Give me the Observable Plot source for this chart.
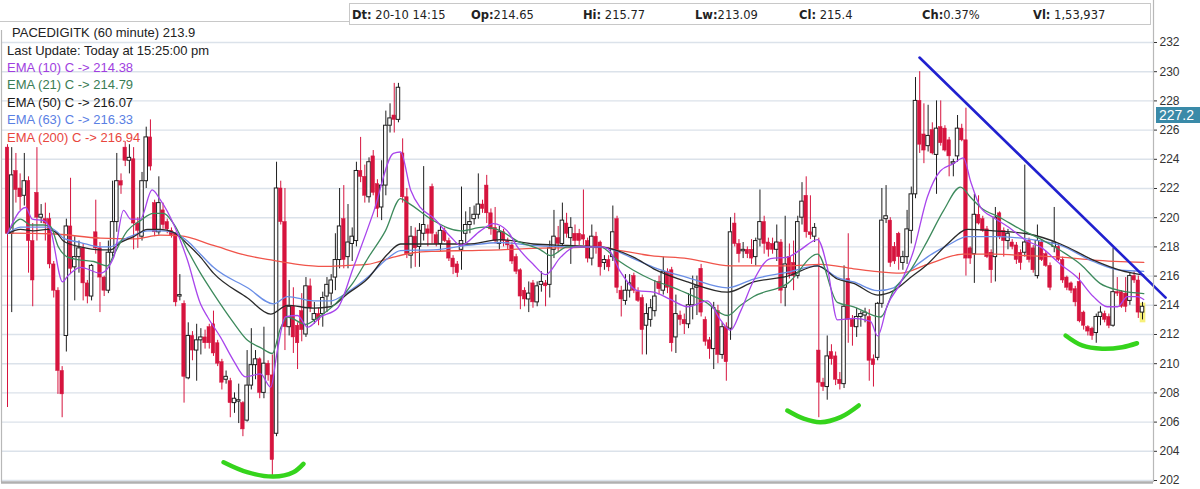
<!DOCTYPE html>
<html><head><meta charset="utf-8">
<script src="https://cdn.jsdelivr.net/npm/d3@7"></script>
<script src="https://cdn.jsdelivr.net/npm/@observablehq/plot@0.6"></script>
<style>
html,body{margin:0;padding:0;background:#fff;}
#wrap{position:relative;width:1200px;height:489px;overflow:hidden;font-family:"Liberation Sans",Arial,sans-serif;}
#chart svg{display:block}
.hdr{position:absolute;left:349px;top:3px;width:802px;height:22px;border:1px solid #c8c8c8;background:#fff;font-family:"DejaVu Sans",sans-serif;font-size:11.5px;color:#222;box-sizing:border-box;}
.hdr span{position:absolute;top:4px;white-space:nowrap}
.lg{position:absolute;font-size:13px;white-space:nowrap;line-height:1}
.tag{position:absolute;background:#3a8aa8;color:#fff;font-size:14px;line-height:16px;padding-left:3px;box-sizing:border-box;}
</style></head>
<body><div id="wrap"><div id="chart"></div></div>
<script>
// ---------- data ----------
const opens = [224.8,218.9,223.2,222.0,221.5,222.5,218.4,221.7,220.0,219.9,219.9,216.8,215.0,209.5,211.9,219.4,216.6,217.3,217.9,215.5,214.6,219.0,217.9,215.9,215.0,217.6,219.7,222.5,224.8,223.9,224.0,219.6,218.7,222.5,225.5,221.0,219.0,220.5,219.7,219.1,218.9,214.6,214.1,209.0,211.9,210.9,211.6,211.8,212.5,212.7,211.4,210.1,208.9,208.8,207.3,207.4,207.3,206.1,208.5,209.9,210.3,208.0,210.0,209.2,205.2,222.0,219.7,212.5,213.9,212.6,213.6,212.0,215.3,213.0,213.4,213.4,214.6,214.8,215.9,217.1,219.9,217.3,218.2,218.4,223.2,222.8,221.4,224.2,222.3,220.7,222.2,226.3,227.0,226.7,224.4,221.4,217.4,218.7,218.0,218.9,219.2,222.1,218.8,218.2,219.1,218.4,217.2,216.8,217.8,218.9,219.5,219.9,220.2,220.9,222.2,220.3,219.3,218.2,219.0,218.4,218.1,217.3,216.4,215.0,214.4,215.5,214.2,215.4,215.5,215.4,217.8,218.6,218.2,219.6,218.6,218.9,218.9,218.8,218.4,217.2,218.7,218.3,216.9,217.1,217.3,219.9,215.0,214.3,215.0,216.0,214.9,214.5,212.6,213.0,213.6,215.6,215.0,216.3,216.4,211.8,213.3,213.0,212.7,214.0,215.2,216.5,213.0,211.6,211.0,213.6,210.6,212.5,212.4,219.6,218.2,217.7,217.8,217.8,217.3,218.5,219.7,218.3,218.2,217.8,218.3,215.2,217.3,216.9,216.0,220.0,221.5,219.0,218.7,210.9,208.7,208.4,210.8,210.5,208.9,208.6,215.8,213.0,212.5,213.2,213.3,213.2,210.3,210.4,214.1,219.9,219.8,218.0,218.9,216.9,217.3,219.1,221.6,228.0,225.7,224.9,226.0,224.3,226.2,226.1,225.3,223.7,224.2,226.1,225.3,217.9,217.5,220.2,219.9,219.2,217.6,217.3,220.3,219.1,218.4,218.3,218.1,217.6,217.6,218.4,217.9,216.0,218.3,217.5,216.7,218.0,218.0,217.1,215.9,215.5,215.1,215.6,213.5,212.5,212.4,212.1,213.2,213.4,213.2,212.6,214.9,214.9,214.8,214.3,216.0,215.7,213.5];
const highs = [225.0,224.8,224.4,223.0,224.4,222.8,219.6,224.8,220.9,221.0,220.3,217.0,215.2,209.8,219.9,222.7,218.7,218.4,218.2,215.7,216.8,221.2,218.3,216.0,218.4,222.5,224.4,223.0,225.2,225.0,224.8,220.0,223.1,226.2,226.7,221.2,222.8,221.0,219.9,219.3,219.0,216.1,214.3,212.8,212.2,212.7,212.4,212.3,212.7,213.6,211.6,210.3,209.5,209.0,208.0,208.6,207.4,210.9,212.4,210.9,210.4,212.5,210.2,210.6,223.8,222.5,222.0,215.7,215.2,212.8,214.8,215.9,215.8,214.2,213.8,214.9,215.9,216.1,218.9,222.0,222.2,220.9,219.3,223.8,225.5,223.6,224.1,224.6,222.6,223.9,227.3,227.8,229.2,229.2,225.4,222.0,219.4,219.3,219.6,223.5,219.5,222.3,219.0,219.4,219.3,218.6,217.4,217.0,222.1,220.4,220.7,220.8,223.0,221.2,222.9,220.6,220.7,219.4,219.2,218.6,218.3,217.5,216.5,215.2,215.6,215.7,215.6,216.3,215.7,218.4,220.5,219.4,221.0,220.3,220.0,219.5,219.2,221.9,218.6,219.5,219.0,218.4,217.4,217.4,220.8,220.1,215.3,216.1,216.1,216.2,215.2,214.7,214.1,214.4,215.7,216.0,217.3,216.5,216.6,214.7,213.6,213.4,214.8,216.0,216.0,216.8,213.2,211.8,214.2,214.0,212.8,212.8,220.0,220.3,218.5,218.3,218.0,218.5,218.6,221.9,220.1,218.6,218.6,219.5,218.5,220.1,218.2,218.4,220.1,222.4,222.8,221.5,219.6,218.6,209.0,211.9,211.3,210.8,209.4,216.7,218.9,213.3,213.8,213.6,213.8,213.7,210.6,214.2,222.0,222.2,220.0,218.3,219.0,217.7,220.5,222.1,229.6,230.0,227.8,227.7,226.5,228.0,228.0,226.3,225.5,224.0,227.0,226.4,227.5,218.0,221.6,221.5,220.1,219.4,217.8,220.7,220.4,219.3,219.2,218.5,218.3,217.8,223.6,218.6,218.1,219.5,218.5,217.7,216.9,220.7,218.2,217.3,216.0,215.6,215.3,216.2,213.6,212.6,212.5,213.4,213.9,213.6,213.4,217.9,215.9,215.0,215.9,216.2,216.3,216.0,214.2];
const lows = [207.0,213.5,221.0,220.5,220.8,216.2,213.9,218.4,219.6,218.4,216.5,214.5,207.9,206.3,210.8,216.1,214.3,216.2,214.3,214.1,214.3,217.5,213.5,214.6,214.8,217.3,219.0,221.6,223.5,223.0,217.8,217.9,218.4,222.0,223.2,218.7,218.8,219.2,218.9,218.6,213.9,214.3,207.3,208.9,210.2,208.8,210.6,211.0,211.0,210.5,209.8,208.2,208.6,206.3,206.6,205.9,205.0,206.0,208.2,208.9,207.6,207.6,208.8,202.3,205.0,219.5,210.9,211.9,210.7,209.6,211.5,211.8,213.5,212.7,212.6,212.5,213.5,214.0,215.0,216.5,216.5,216.5,217.0,218.0,222.4,221.0,221.0,221.5,220.0,219.8,221.5,225.8,225.8,226.5,221.0,217.2,216.5,216.6,216.6,218.4,218.0,218.2,218.0,217.7,218.3,217.0,216.1,215.9,216.4,218.2,218.9,219.5,219.9,220.3,219.6,218.8,218.2,217.8,218.0,217.8,216.8,216.1,213.7,213.9,213.5,213.8,213.9,214.9,213.9,214.5,217.2,217.6,218.0,218.6,216.8,218.0,218.1,218.1,216.9,216.7,217.5,216.0,216.4,216.3,217.0,214.8,213.2,214.0,214.5,214.8,214.2,210.6,210.6,212.5,213.2,214.7,214.7,214.8,210.8,210.7,212.6,212.0,212.4,213.0,213.3,213.2,211.2,210.3,209.6,210.0,210.3,208.8,211.6,218.0,216.9,217.2,217.2,216.8,216.7,218.0,217.5,217.3,217.5,217.0,214.1,213.9,215.8,215.0,215.8,219.5,218.6,218.5,218.3,206.3,208.1,207.5,209.9,208.5,208.2,208.3,211.4,211.2,211.8,212.5,212.8,208.8,208.4,210.2,213.8,219.6,216.6,216.8,216.4,216.4,216.8,218.2,221.3,224.4,223.7,224.5,224.3,221.6,224.9,224.5,222.8,222.8,223.8,225.2,216.0,216.8,215.5,219.5,219.0,217.2,215.5,215.6,218.5,217.3,217.8,217.8,216.8,216.4,217.3,216.9,216.2,215.8,217.0,216.6,215.0,217.6,217.0,215.5,215.0,214.8,213.9,212.8,212.3,211.9,211.6,211.4,212.6,212.8,212.4,212.5,214.6,213.8,213.5,214.0,215.5,213.1,213.0];
const closes = [218.9,222.9,221.9,221.4,222.5,218.4,215.7,220.0,220.2,219.6,216.8,215.0,209.5,207.9,219.4,216.5,217.3,217.9,215.5,214.6,216.7,217.9,215.9,215.0,217.6,219.7,222.5,222.2,223.9,224.1,219.6,219.1,222.5,225.5,223.5,219.0,221.0,219.5,219.2,218.8,214.2,214.7,209.1,211.9,210.9,211.6,211.8,211.4,211.4,210.7,210.0,208.7,209.1,207.3,207.6,207.5,205.5,208.5,209.9,210.3,208.0,210.0,209.2,203.4,222.0,219.7,212.5,213.9,211.8,211.4,212.3,215.3,213.8,213.4,213.0,214.5,215.4,215.7,217.1,219.4,217.1,218.3,218.7,223.2,222.8,221.5,223.8,221.7,220.6,222.2,226.3,226.8,226.7,228.9,221.4,217.5,218.7,217.9,219.1,219.5,218.9,218.9,218.2,219.1,218.4,217.2,216.6,216.2,218.4,219.5,219.7,220.2,220.9,220.6,220.3,219.2,218.4,219.0,218.4,218.1,217.0,216.3,214.6,214.4,214.8,214.2,215.3,215.6,215.3,217.9,218.7,218.2,219.8,218.9,219.3,218.4,218.4,218.5,217.2,218.7,217.9,216.6,217.1,216.6,219.0,215.2,214.4,215.0,215.5,215.0,214.3,212.3,213.4,213.8,214.6,215.1,216.3,215.2,211.4,213.4,213.0,212.7,214.0,215.1,215.3,213.5,211.5,211.0,213.8,210.6,212.5,210.1,219.0,218.2,217.5,217.8,217.5,217.2,218.4,219.7,218.2,217.8,217.8,218.3,215.0,216.8,216.1,216.0,219.7,221.1,219.0,218.8,219.3,208.7,208.4,210.5,210.3,208.9,208.6,213.9,213.0,212.5,213.2,213.4,213.5,210.2,209.9,214.1,219.8,220.1,216.9,217.0,217.3,217.3,219.2,221.6,228.0,225.0,224.6,225.6,224.4,226.1,225.1,224.6,224.2,223.8,226.1,225.3,217.2,217.2,220.2,219.6,219.1,217.3,216.4,220.0,218.7,218.4,218.9,218.0,217.1,216.9,218.3,217.1,216.4,218.4,217.1,216.7,215.2,218.3,217.1,215.7,215.2,215.0,214.2,212.9,212.6,212.2,211.9,213.2,213.5,213.0,212.6,214.9,214.8,213.9,213.9,216.0,215.7,213.5,213.9];

// EMA readings: [bar index, price]
const ema10 = [[0,218.9],[4.3,220.7],[5.9,219.9],[8.6,219.8],[10.2,219.2],[13.1,215.6],[14.3,216.0],[17.4,216.6],[22.1,216.2],[25.3,217.3],[27.6,220.5],[29.3,219.9],[31.6,219.9],[34.4,221.9],[36.4,221.2],[39.6,219.5],[42.8,217.1],[45.9,214.1],[47.6,213.2],[50.7,211.8],[53.8,210.2],[56.6,209.1],[60.2,209.3],[62.6,208.4],[64.2,210.9],[66.1,213.2],[69.0,213.3],[71.4,212.5],[74.5,213.2],[78.5,213.8],[82.3,216.6],[87.1,220.4],[91.8,224.4],[93.5,224.5],[95.9,221.9],[98.2,220.7],[101.3,220.0],[105.4,218.7],[107.8,218.1],[112.5,219.1],[115.6,219.6],[118.9,219.1],[121.3,218.0],[125.1,216.8],[128.0,216.1],[131.6,217.3],[135.1,218.0],[141.0,218.0],[142.7,217.9],[145.8,216.3],[149.9,215.0],[153.7,214.9],[157.7,214.4],[161.8,213.9],[166.5,214.3],[169.6,213.0],[172.0,212.3],[174.4,213.6],[177.5,215.7],[181.5,217.2],[185.6,217.3],[188.6,217.8],[192.7,218.5],[195.1,216.5],[197.4,213.0],[201.3,213.1],[205.3,212.9],[207.0,211.9],[209.3,214.0],[212.4,215.5],[215.5,217.7],[218.8,221.4],[221.9,223.2],[225.0,223.7],[227.4,224.1],[229.1,222.5],[231.5,220.7],[234.6,220.0],[237.9,219.4],[242.6,218.4],[245.7,218.0],[250.5,216.8],[254.5,215.9],[258.3,214.6],[261.6,213.9],[264.1,213.9],[266.4,214.6],[268.8,214.6],[270.3,214.4]];
const ema21 = [[0,218.9],[3.1,219.9],[5.5,219.5],[8.6,219.5],[10.2,219.4],[12.1,218.0],[14.3,217.3],[17.4,217.1],[20.5,217.0],[23.8,216.7],[25.2,217.4],[28.5,219.1],[31.6,219.8],[34.7,220.3],[37.1,220.3],[39.5,219.6],[42.8,217.8],[45.9,216.2],[49.0,214.8],[53.8,212.8],[57.1,211.6],[60.2,211.1],[63.0,210.7],[64.9,212.4],[66.6,213.2],[70.9,212.7],[74.0,213.2],[78.0,214.1],[82.1,215.5],[85.9,217.3],[89.9,219.1],[93.5,221.3],[95.4,221.0],[101.3,219.8],[107.8,219.1],[113.2,219.35],[117.3,219.1],[121.3,218.4],[126.8,217.8],[129.2,217.4],[133.2,218.0],[141.0,218.0],[145.1,217.1],[148.9,216.4],[153.7,215.7],[157.7,215.3],[161.8,214.8],[165.6,214.3],[171.3,213.3],[174.4,214.0],[177.5,214.6],[185.6,215.5],[192.7,217.5],[197.4,214.2],[201.3,213.9],[207.7,213.2],[210.8,215.0],[214.8,216.4],[218.8,218.4],[222.7,220.5],[226.7,222.1],[229.1,221.4],[231.5,220.7],[236.2,220.0],[241.0,219.2],[245.7,218.55],[250.5,217.75],[255.3,216.8],[259.9,215.5],[264.8,215.0],[270.3,214.8]];
const ema50 = [[0,218.9],[3.1,219.2],[6.2,219.1],[9.5,219.2],[11.9,218.9],[13.3,218.4],[17.4,218.0],[22.1,217.8],[24.5,217.8],[26.9,218.3],[30.0,218.7],[33.3,219.2],[36.4,219.2],[39.5,219.0],[42.8,218.2],[45.9,217.3],[49.0,216.2],[57.1,214.5],[62.6,213.4],[66.6,214.0],[72.8,213.8],[76.8,213.9],[80.9,214.8],[85.6,215.8],[90.4,217.5],[93.5,218.2],[101.3,218.2],[109.4,218.2],[117.3,218.5],[125.1,218.2],[133.2,218.1],[141.0,218.0],[148.9,217.3],[153.7,216.5],[161.8,215.6],[171.3,214.9],[177.5,215.6],[185.6,216.0],[192.7,216.7],[197.4,215.8],[201.3,215.5],[207.0,214.7],[210.8,215.0],[214.8,215.9],[218.8,216.8],[223.6,218.2],[228.4,219.2],[234.6,219.1],[242.6,218.9],[250.5,218.2],[258.3,217.1],[264.8,216.4],[270.3,216.07]];
const ema63 = [[0,218.9],[3.1,219.35],[9.5,219.35],[11.9,219.0],[13.3,218.6],[17.4,218.3],[22.1,218.0],[24.5,218.0],[26.9,218.4],[30.0,218.8],[33.3,219.1],[36.4,219.1],[39.5,219.0],[42.8,218.4],[45.9,217.5],[49.0,216.6],[57.1,215.2],[63.3,214.1],[66.6,214.6],[72.8,214.3],[76.8,214.3],[80.9,214.9],[85.6,215.9],[90.4,217.2],[93.5,217.75],[101.3,217.8],[109.4,218.1],[117.3,218.3],[125.1,218.1],[133.2,218.0],[141.0,218.0],[148.9,217.2],[153.7,216.6],[161.8,215.9],[171.3,215.2],[177.5,215.8],[185.6,216.27],[192.7,216.7],[197.4,215.9],[201.3,215.6],[207.0,215.0],[210.8,215.2],[214.8,216.4],[218.8,217.3],[223.6,218.1],[228.4,218.7],[234.6,218.7],[242.6,218.55],[250.5,218.1],[258.3,217.0],[264.8,216.4],[270.3,216.33]];
const ema200 = [[0,218.94],[10.2,218.9],[22.1,218.6],[30.0,218.55],[36.4,218.8],[41.2,218.75],[49.0,218.1],[57.1,217.4],[63.3,217.07],[69.0,216.8],[75.2,216.66],[80.9,216.73],[85.6,216.8],[91.8,217.3],[96.6,217.6],[101.8,217.7],[109.4,217.75],[117.3,217.8],[125.1,217.9],[133.9,217.95],[141.0,218.0],[145.8,217.75],[153.0,217.4],[161.8,217.2],[172.0,216.7],[185.6,216.7],[193.4,216.8],[201.3,216.5],[207.0,216.3],[212.4,216.2],[218.8,216.8],[227.4,217.5],[234.6,217.5],[242.6,217.4],[250.5,217.3],[258.3,217.1],[270.3,216.94]];

// annotations drawn on the chart: [bar index, price]
const trendLine = [[216.95,230.97],[275.5,214.53]];
const smile1 = [[51.4,203.25],[57.0,202.57],[63.3,202.27],[68.0,202.57],[70.4,203.14]];
const smile2 = [[185.5,206.79],[189.4,206.23],[193.4,205.99],[198.2,206.34],[202.5,207.14]];
const smile3 = [[251.7,211.93],[255.6,211.25],[260.4,211.02],[265.2,211.13],[268.7,211.4]];

const yTicks = [202,204,206,208,210,212,214,216,218,220,222,224,226,228,230,232];
const lastTag = 227.2;

const titleText = "PACEDIGITK (60 minute) 213.9";
const updateText = "Last Update: Today at 15:25:00 pm";
const emaLabels = ["EMA (10) C -> 214.38","EMA (21) C -> 214.79","EMA (50) C -> 216.07","EMA (63) C -> 216.33","EMA (200) C -> 216.94"];
const headerLabels = ["Dt:","Op:","Hi:","Lw:","Cl:","Ch:","Vl:"];
const headerValues = [" 20-10 14:15","214.65"," 215.77","213.09"," 215.4","0.37%"," 1,53,937"];

// ---------- styling ----------
const RED = "#d6143e";
const emaColors = ["#a845ec","#3d8a5c","#2a2a2a","#6a8ee6","#f0544a"];
const legendColors = ["#a03ee0","#3b7d55","#1a1a1a","#5a80e4","#e8463e"];

// ---------- build ----------
const N = opens.length;
const candles = d3.range(N).map(i => ({
  i, o: opens[i], h: highs[i], l: lows[i], c: closes[i], up: closes[i] >= opens[i]
}));

const W = 1200, H = 489, mL = 1, mR = 47, mT = 30, mB = 7;
const firstX = 7, lastX = 1142;
const step = (lastX - firstX) / (N - 1);
const xDom = [(mL - firstX) / step, (W - mR - firstX) / step];
const pxPerUnit = 14.6, y232 = 42;
const yDom = [232 - (H - mB - y232) / pxPerUnit, 232 + (y232 - mT) / pxPerUnit];

const hw = 0.42;
const lineOf = (data, color, w) => Plot.line(data, {x: d => d[0], y: d => d[1], stroke: color, strokeWidth: w, curve: "monotone-x"});
const smile = data => Plot.line(data, {x: d => d[0], y: d => d[1], stroke: "#35d41c", strokeWidth: 4.5, curve: "catmull-rom", strokeLinecap: "round"});

const chart = Plot.plot({
  width: W, height: H,
  marginLeft: mL, marginRight: mR, marginTop: mT, marginBottom: mB,
  x: {domain: xDom, axis: null},
  y: {domain: yDom, axis: null},
  style: {background: "transparent", overflow: "visible", fontFamily: "Liberation Sans, Arial, sans-serif", fontSize: "12px"},
  marks: [
    Plot.gridY(yTicks, {stroke: "#dbe2ea", strokeOpacity: 1, strokeWidth: 1.4}),
    Plot.rect([0], {x1: N - 1.55, x2: N - 0.2, y1: 212.8, y2: 214.15, fill: "#f6ee6a", fillOpacity: 0.9}),
    Plot.ruleX(candles, {x: "i", y1: "l", y2: "h", stroke: d => d.up ? "#1e1e1e" : RED, strokeWidth: 1}),
    Plot.rect(candles, {
      x1: d => d.i - hw, x2: d => d.i + hw,
      y1: d => Math.min(d.o, d.c),
      y2: d => Math.max(d.o, d.c) + (Math.abs(d.o - d.c) < 0.08 ? 0.08 : 0),
      fill: d => d.up ? "#ffffff" : RED,
      stroke: d => d.up ? "#1e1e1e" : RED, strokeWidth: d => d.up ? 1 : 0.5
    }),
    lineOf(ema200, emaColors[4], 1.3),
    lineOf(ema63, emaColors[3], 1.3),
    lineOf(ema50, emaColors[2], 1.3),
    lineOf(ema21, emaColors[1], 1.3),
    lineOf(ema10, emaColors[0], 1.3),
    Plot.line(trendLine, {x: d => d[0], y: d => d[1], stroke: "#2121cf", strokeWidth: 2.6}),
    smile(smile1), smile(smile2), smile(smile3),
    Plot.ruleX([xDom[0]], {stroke: "#b8b8b8", strokeWidth: 1.2}),
    Plot.ruleX([xDom[1]], {y1: yDom[0], y2: yDom[1] + 2.1, stroke: "#b8b8b8", strokeWidth: 1.2}),
    Plot.ruleY([yDom[0]], {stroke: "#b0b0b0", strokeWidth: 2.5}),
    Plot.axisY(yTicks, {anchor: "right", tickSize: 3, tickPadding: 3, label: null, color: "#333", fontSize: 12})
  ]
});
document.getElementById("chart").appendChild(chart);

const wrap = document.getElementById("wrap");
// top separator line (left of header box)
const sep = document.createElement("div");
sep.style.cssText = "position:absolute;left:0;top:21px;width:349px;height:1px;background:#c8c8c8";
wrap.appendChild(sep);

// header box
const hdr = document.createElement("div");
hdr.className = "hdr";
const hdrX = [0, 119, 231, 343, 447, 570, 681];
headerLabels.forEach((lab, k) => {
  const s = document.createElement("span");
  s.style.left = (hdrX[k] + 2) + "px";
  s.innerHTML = "<b>" + lab + "</b>" + headerValues[k].replace(/ /g, "&nbsp;");
  hdr.appendChild(s);
});
wrap.appendChild(hdr);

// legend texts
function addLegend(text, left, top, color) {
  const d = document.createElement("div");
  d.className = "lg";
  d.style.left = left + "px"; d.style.top = top + "px"; d.style.color = color;
  d.textContent = text;
  wrap.appendChild(d);
}
addLegend(titleText, 12, 26, "#222");
addLegend(updateText, 7, 44, "#222");
emaLabels.forEach((t, k) => addLegend(t, 7, 61 + k * 17.4, legendColors[k]));

// last-price tag on the axis (placed just below the 228 label so the texts do not collide)
const ty = chart.scale("y").apply(lastTag);
const y228 = chart.scale("y").apply(228);
const tag = document.createElement("div");
tag.className = "tag";
tag.style.left = (W - mR + 3) + "px";
tag.style.top = Math.max(ty - 8, y228 + 6.5) + "px";
tag.style.width = (mR - 3) + "px";
tag.style.height = "16px";
tag.textContent = String(lastTag);
wrap.appendChild(tag);
</script></body></html>
